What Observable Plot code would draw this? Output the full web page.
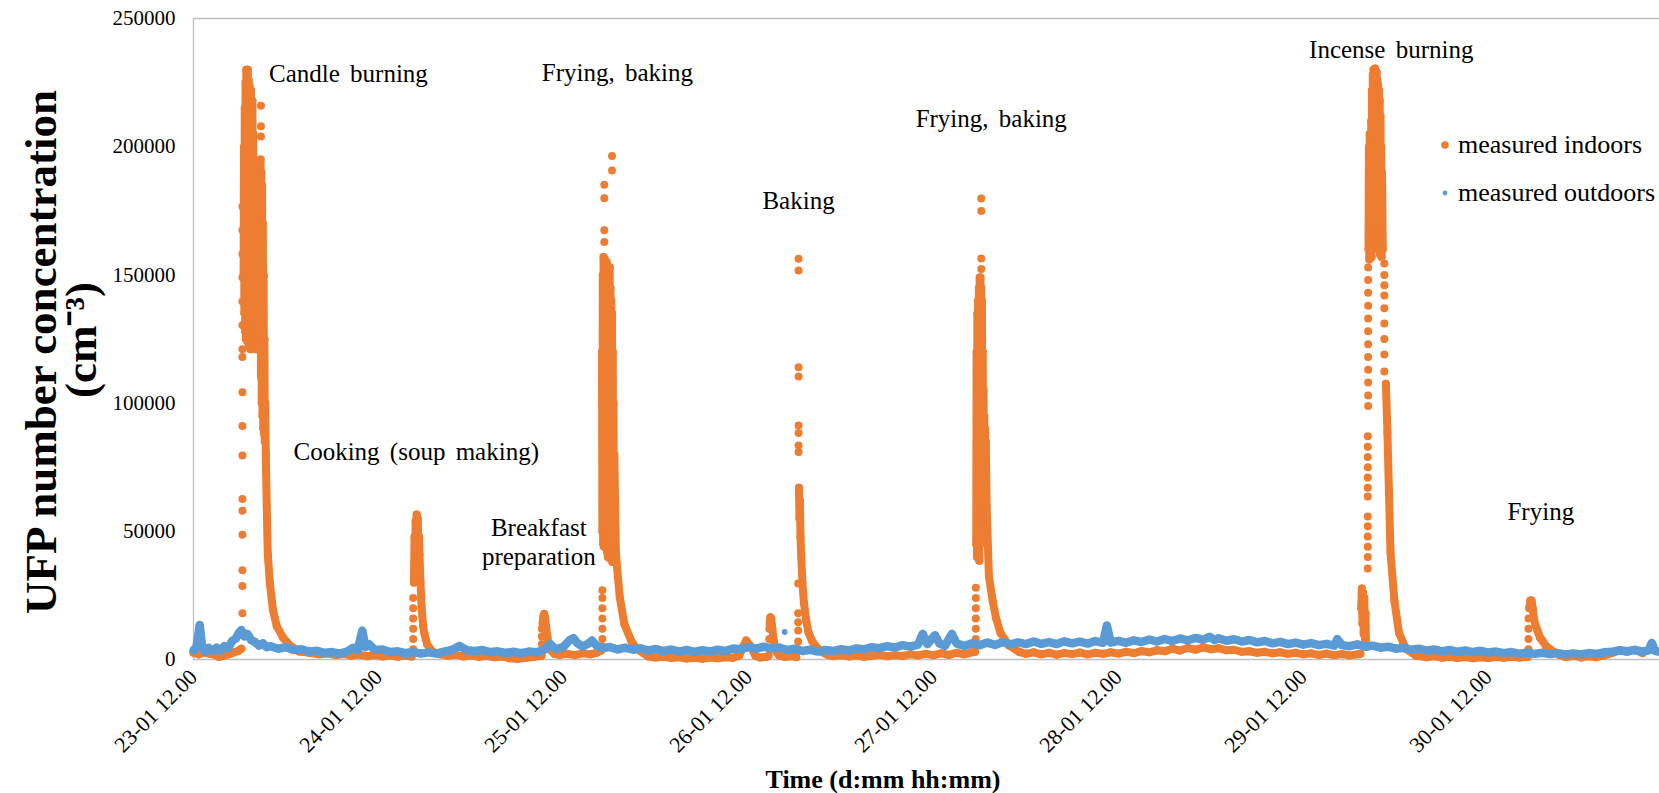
<!DOCTYPE html>
<html>
<head>
<meta charset="utf-8">
<script src="https://cdn.jsdelivr.net/npm/d3@7"></script>
<script src="https://cdn.jsdelivr.net/npm/@observablehq/plot@0.6"></script>
<style>
  html, body { margin: 0; padding: 0; background: #fff; }
  #chart { width: 1659px; height: 793px; }
  #chart svg g[aria-label="text"] text { word-spacing: 4px; }
</style>
</head>
<body>
<div id="chart"></div>
<script>
// ---------------- DATA (hours after 23-01 12.00, UFP number concentration cm^-3) ----------------
const START_UTC = Date.UTC(2015, 0, 23, 12, 0);
const X_END_HOURS = 190.2;
const xTickHours = [0, 24, 48, 72, 96, 120, 144, 168];
const yTicks = [0, 50000, 100000, 150000, 200000, 250000];
const seriesNames = ["measured indoors", "measured outdoors"];
const yTitleLines = ["UFP number concentration", "(cm\u207B\u00B3)"];
const xTitle = "Time (d:mm hh:mm)";

const eventLabels = ["Candle burning", "Cooking (soup making)", "Breakfast\npreparation", "Frying, baking", "Baking", "Frying, baking", "Incense burning", "Frying"];
const eventHours  = [20.1, 28.9, 44.8, 55.0, 78.5, 103.5, 155.4, 174.8];
const eventUFP    = [229000, 81500, 46100, 229300, 179400, 211200, 238400, 58100];

// indoor: continuous bands of dense measurements [hour, value]
const indoorLead = [[0,2600],[0.7,2000],[1.4,2800],[2.1,2200],[2.8,1800],[3.3,1000],[3.8,1400],[4.3,1800],[4.8,2200],[5.3,2800],[5.8,3300],[6.2,4200]];
const candleBand = [[6.5,150000],[6.55,200000],[6.6,135000],[6.65,215000],[6.7,128000],[6.75,225000],[6.8,125000],[6.85,230000],[6.9,130000],[6.95,228000],[7.0,124000],[7.05,230000],[7.1,127000],[7.15,226000],[7.2,122000],[7.25,224000],[7.3,128000],[7.35,220000],[7.4,121000],[7.45,222000],[7.5,125000],[7.55,215000],[7.6,122000],[7.65,218000],[7.7,130000],[7.75,205000],[7.8,123000],[7.85,195000],[7.9,122000],[7.95,180000],[8.0,126000],[8.05,172000],[8.1,121000],[8.15,165000],[8.2,124000],[8.25,160000],[8.3,122000],[8.35,150000],[8.4,125000],[8.5,135000],
  [8.7,195000],[8.75,110000],[8.8,190000],[8.85,100000],[8.9,185000],[8.95,95000],[9.0,170000],[9.05,90000],[9.1,150000],[9.15,88000],[9.2,125000],[9.25,85000],[9.3,100000],[9.38,80000],
  [9.5,60000],[9.64,41000],[9.9,30000],[10.3,19500],[10.8,13000],[11.6,8600],[12.5,5500],[13.7,3100],[15,2600],[16.3,2000],[17.5,2300],[18.5,1700],[19.5,2100],[20.5,1500],[21.5,1900],[22.5,1300],[23.5,1700],[24.5,1200],[25.5,1600],[26.5,1100],[27.5,1500],[28.3,1200]];
const cookingBand = [[28.6,30000],[28.68,48000],[28.75,35000],[28.82,54000],[28.88,40000],[28.95,56600],[29.02,45000],[29.1,55000],[29.18,44000],[29.25,48000],[29.32,41000],[29.45,30000],[29.6,20000],[29.8,13000],[29.96,10000],[30.3,6000],[31.0,3000],[32,2000],[33,1500],[34,1800],[35,1200],[36,1600],[37,1100],[38,1400],[39,900],[40,1200],[41,500],[42,300],[43,600],[44,1000],[45,1400],[45.15,1500]];
const breakfastBand = [[45.3,14000],[45.4,17000],[45.5,17800],[45.6,16500],[45.75,13000],[45.9,9000],[46.1,6000],[46.4,3500],[46.8,2200],[47.5,1800],[48.5,2200],[49.5,1700],[50.5,2400],[51.5,2000],[52.3,2600],[52.9,3500]];
const fryingBand1 = [[53.0,120000],[53.05,50000],[53.1,150000],[53.15,45000],[53.2,157000],[53.25,44000],[53.3,155000],[53.35,48000],[53.4,156000],[53.45,46000],[53.5,150000],[53.55,50000],[53.6,155000],[53.65,42000],[53.7,150000],[53.75,40000],[53.8,152000],[53.85,45000],[53.9,148000],[53.95,41000],[54.0,153000],[54.05,40000],[54.1,145000],[54.15,39000],[54.2,140000],[54.25,40000],[54.3,135000],[54.35,38000],[54.4,120000],[54.45,39000],[54.5,100000],[54.55,38000],[54.6,80000],[54.7,60000],[54.8,42000],
  [54.9,37600],[55.3,24400],[55.9,13800],[56.8,7200],[57.5,4200],[58.3,2600],[59,1200],[60,800],[61,1100],[62,600],[63,900],[64,400],[65,700],[66,300],[67,800],[68,500],[69,900],[70,700],[70.8,1500],[71.3,5000],[71.7,7400],[72.2,5500],[72.9,1500],[73.5,800],[74.3,1000],[74.6,1400]];
const smallBakeBand = [[74.75,14000],[74.85,16500],[74.95,16000],[75.1,12000],[75.3,7000],[75.6,3000],[76,1500],[76.7,1000],[77.5,1300],[78.2,900]];
const bakingBand = [[78.55,67000],[78.62,55000],[78.68,62000],[78.75,48000],[78.85,40000],[79.0,30000],[79.2,22000],[79.5,15000],[79.8,10500],[80.3,7000],[80.9,4500],[81.5,3000],[82.3,1800],[83,1300],[84,1700],[85,1200],[86,1600],[87,1100],[88,1500],[89,1800],[90,1300],[91,1700],[92,1400],[93,2000],[94,1600],[95,2200],[96,1700],[97,2400],[98,1800],[99,2600],[100,2000],[101,2800],[101.4,3000]];
const fryingBand2 = [[101.55,45000],[101.6,120000],[101.65,40000],[101.7,135000],[101.75,42000],[101.8,140000],[101.85,40000],[101.9,145000],[101.95,38500],[102.0,149000],[102.05,45000],[102.1,149000],[102.15,55000],[102.2,145000],[102.25,60000],[102.3,140000],[102.35,58000],[102.4,120000],[102.45,55000],[102.5,105000],[102.55,52000],[102.6,95000],[102.65,50000],[102.7,90000],[102.75,52000],[102.8,85000],[102.9,60000],
  [103.0,50700],[103.2,32400],[103.7,22600],[104.1,16400],[104.7,10300],[105.8,5500],[107.1,3000],[108,2200],[109,2800],[110,2000],[111,2600],[112,1900],[113,2500],[114,2100],[115,2700],[116,2000],[117,2600],[118,2200],[119,2800],[120,2300],[121,3000],[122,2500],[123,3300],[124,2800],[125,3600],[126,3200],[127,4200],[128,3500],[129,4500],[130,3800],[131,4700],[132,4000],[133,4400],[134,3600],[135,3800],[136,3000],[137,3200],[138,2600],[139,3000],[140,2400],[141,2800],[142,2200],[143,2600],[144,2000],[145,2400],[146,1800],[147,2300],[148,1700],[149,2100],[150,1600],[151,2000],[151.4,2200]];
const incenseLump = [[151.5,20000],[151.58,27700],[151.66,14000],[151.74,26000],[151.82,10000],[151.9,24000],[151.98,8000],[152.06,18000],[152.12,5000]];
const incenseBand = [[152.45,160000],[152.5,200000],[152.55,156000],[152.6,205000],[152.65,158000],[152.7,200000],[152.75,160000],[152.8,210000],[152.85,157000],[152.9,222000],[152.95,162000],[153.0,228000],[153.05,165000],[153.1,230000],[153.15,162000],[153.2,229000],[153.25,170000],[153.3,230500],[153.35,165000],[153.4,227000],[153.45,168000],[153.5,229000],[153.55,163000],[153.6,226000],[153.65,166000],[153.7,224000],[153.75,160000],[153.8,222000],[153.85,165000],[153.9,218000],[153.95,158000],[154.0,212000],[154.05,160000],[154.1,200000],[154.15,157000],[154.2,190000],[154.3,160000]];
const incenseDecay = [[154.7,107500],[154.9,88700],[155.1,65200],[155.3,41700],[155.8,23000],[156.4,10400],[157.3,4100],[158.6,1500],[160,900],[161,1300],[162,700],[163,1100],[164,600],[165,1000],[166,500],[167,900],[168,600],[169,1000],[170,700],[171,1100],[172,800],[173.1,1000]];
const fryingBand3 = [[173.3,20000],[173.45,23000],[173.6,23000],[173.75,20000],[173.9,16000],[174.1,13500],[174.4,11000],[174.7,8500],[175.0,7400],[175.5,5200],[175.9,4200],[176.6,2800],[177.2,1800],[178,1000],[179,1400],[180,800],[181,1300],[182,900],[183,1600],[184,2500],[185,3500],[186,3000],[187,3800],[188,2500]];

// indoor: sparse readings during the fast rises (shown as dotted columns)
const candleRise = [[6.35,10000],[6.35,18000],[6.35,28700],[6.35,34800],[6.35,48700],[6.35,58000],[6.35,62600],[6.35,79600],[6.35,91100],[6.35,104200],[6.35,118000],[6.35,121000],[6.35,130400],[6.35,139600],[6.35,149000],[6.35,158200],[6.35,167400],[6.35,176700]];
const candleTop = [[8.75,216000],[8.75,208000],[8.75,204000]];
const cookingRise = [[28.5,4000],[28.5,8000],[28.5,12000],[28.5,16000],[28.5,20000],[28.5,24000]];
const breakfastRise = [[45.2,3000],[45.2,6000],[45.2,9000],[45.2,12000]];
const fryingRise1 = [[53.05,5000],[53.05,8000],[53.05,12000],[53.05,16000],[53.05,20000],[53.05,24000],[53.05,27000]];
const fryingTop1 = [[53.3,185200],[53.3,179900],[53.3,167400],[53.3,162800],[54.3,196400],[54.3,190700]];
const smallBakeRise = [[74.7,4000],[74.7,8000],[74.7,12000]];
const bakingRise = [[78.5,156300],[78.5,151700],[78.5,114000],[78.5,110400],[78.5,91300],[78.5,88300],[78.5,83500],[78.5,80900],[78.45,29600],[78.45,18000],[78.45,14500],[78.45,11300],[78.45,7000],[78.45,4000]];
const fryingRise2 = [[101.5,8000],[101.5,12000],[101.5,16000],[101.5,20000],[101.5,24000],[101.5,28000]];
const fryingTop2 = [[102.2,179800],[102.2,174900],[102.2,156400],[102.2,152300]];
const incenseRise = [[152.4,152900],[152.4,148000],[152.4,143000],[152.4,138000],[152.4,133000],[152.4,128000],[152.4,123000],[152.4,118000],[152.4,113000],[152.4,108000],[152.4,103000],[152.4,98900],[152.35,87100],[152.35,83000],[152.35,79000],[152.35,75000],[152.35,71000],[152.35,67000],[152.35,63600],[152.35,55800],[152.35,52000],[152.35,48000],[152.35,44000],[152.35,40000],[152.35,35500]];
const incenseTail = [[154.5,154400],[154.5,150000],[154.5,146000],[154.5,142000],[154.5,137000],[154.5,131000],[154.5,125000],[154.5,119000],[154.5,112300]];
const fryingRise3 = [[173.2,4000],[173.2,8000],[173.2,12000],[173.2,16000]];

// outdoor
const outdoorBand = [[0,3500],[0.4,5000],[0.8,13500],[1.1,5500],[1.5,3000],[2,4500],[2.5,3300],[3,4600],[3.5,3500],[4,5200],[4.5,4400],[5,7200],[5.5,8200],[5.9,10500],[6.2,11500],[6.6,9000],[7,10000],[7.5,7500],[8,6800],[8.5,5400],[9,6300],[9.5,4800],[10,5200],[11,4200],[12,4800],[13,3700],[14,4000],[15,3100],[16,3400],[17,2600],[18,2900],[19,2300],[20,3200],[20.7,4600],[21.3,3600],[21.9,11300],[22.3,4800],[22.8,6000],[23.5,3700],[24.5,3900],[25.5,2900],[26.5,3200],[27.5,2500],[28.5,3000],[29.5,2300],[30.5,2800],[31.5,2300],[32.5,3100],[33.5,3700],[34.5,5300],[35.5,3600],[36.5,3300],[37.5,3700],[38.5,2900],[39.5,3200],[40.5,2600],[41.5,3000],[42.5,2500],[43.5,3100],[44.5,2800],[45.5,3800],[46.3,6000],[47,4000],[48,4900],[48.8,7600],[49.3,8300],[49.8,6400],[50.5,5000],[51.2,6200],[51.7,7400],[52.3,5400],[53,4400],[54,4900],[55,3900],[56,4600],[57,3800],[58,4400],[59,3500],[60,4100],[61,3300],[62,3900],[63,3100],[64,3700],[65,3000],[66,3600],[67,3100],[68,3800],[69,3300],[70,4300],[71,4000],[72,4800],[73,4200],[74,5000],[75,4300],[76,4700],[77,3700],[78,4200],[79,3300],[80,3800],[81,3100],[82,3700],[83,3300],[84,4000],[85,3500],[86,4300],[87,4000],[88,4800],[89,4400],[90,5200],[91,4700],[92,5600],[93,5000],[94,5800],[94.6,10000],[95.2,6000],[96.2,9500],[96.8,6200],[97.5,5400],[98.4,10000],[99,6300],[100,5300],[101,6300],[102,5600],[103,6600],[104,5700],[105,6800],[106,5900],[107,6700],[108,6000],[109,7000],[110,6100],[111,6800],[112,6000],[113,7100],[114,6300],[115,7000],[116,6200],[117,7200],[118,6500],[118.5,13300],[119,6600],[120,7300],[121,6500],[122,7500],[123,6800],[124,7800],[125,7000],[126,8000],[127,7200],[128,8200],[129,7500],[130,8400],[131,7700],[131.8,8900],[132.5,7600],[133,8300],[134,7300],[135,7900],[136,7000],[137,7600],[138,6700],[139,7200],[140,6300],[141,6900],[142,6000],[143,6600],[144,5800],[145,6400],[146,5600],[147,6100],[148,5400],[148.4,8000],[149,5600],[150,5200],[151,5900],[152,5000],[153,5400],[154,4600],[155,5000],[156,4200],[157,4600],[158,3800],[159,4200],[160,3500],[161,3900],[162,3200],[163,3700],[164,3000],[165,3500],[166,2900],[167,3400],[168,2700],[169,3100],[170,2500],[171,2900],[172,2300],[173,2700],[174,2200],[175,2600],[176,2100],[177,2500],[178,2000],[179,2400],[180,2000],[181,2500],[182,2200],[183,2800],[184,3000],[185,3600],[186,3200],[187,3700],[188,3100],[188.8,3600],[189.2,6500],[189.6,3400],[190.2,3000]];
const outdoorStray = [[76.7,10700]];

// ---------------- BUILD ----------------
const ORANGE = "#ED7D31", BLUE = "#5B9BD5", FRAME = "#BFBFBF";
const FONT = "'Liberation Serif', 'Times New Roman', serif";
const toDate = h => new Date(START_UTC + h * 3600000);
const toRow = ([h, v]) => ({t: toDate(h), v});

const indoorSegments = [indoorLead, candleBand, cookingBand, breakfastBand, fryingBand1, smallBakeBand, bakingBand, fryingBand2, incenseLump, incenseBand, incenseDecay, fryingBand3];
const indoorLine = [];
indoorSegments.forEach((seg, i) => {
  if (i) indoorLine.push({t: null, v: null});
  seg.forEach(p => indoorLine.push(toRow(p)));
});
const indoorScatter = [candleRise, candleTop, cookingRise, breakfastRise, fryingRise1, fryingTop1, smallBakeRise, bakingRise, fryingRise2, fryingTop2, incenseRise, incenseTail, fryingRise3].flat().map(toRow);
const outdoorLine = outdoorBand.map(toRow);
const outdoorDots = outdoorStray.map(toRow);
const events = eventLabels.map((label, i) => ({label, t: toDate(eventHours[i]), v: eventUFP[i]}));

const chart = Plot.plot({
  width: 1659,
  height: 793,
  marginLeft: 193,
  marginRight: 0,
  marginTop: 18,
  marginBottom: 134,
  style: {fontFamily: FONT, fontSize: "20px", color: "#000", background: "#fff", overflow: "visible"},
  x: {type: "utc", domain: [toDate(0), toDate(X_END_HOURS)]},
  y: {domain: [0, 250000]},
  marks: [
    Plot.ruleY([0, 250000], {stroke: FRAME, strokeWidth: 1.3}),
    Plot.ruleX([toDate(0)], {stroke: FRAME, strokeWidth: 1.3}),
    Plot.axisY({ticks: yTicks, tickFormat: d3.format("d"), tickSize: 0, tickPadding: 18, label: null, fontSize: 21}),
    Plot.axisX({ticks: xTickHours.map(toDate), tickFormat: d3.utcFormat("%d-%m %H.%M"), tickRotate: -45, tickSize: 0, tickPadding: 14, label: null, fontSize: 22}),
    Plot.line(indoorLine, {x: "t", y: "v", stroke: ORANGE, strokeWidth: 8, strokeLinejoin: "round", strokeLinecap: "round"}),
    Plot.dot(indoorLine, {x: "t", y: "v", r: 4, fill: ORANGE}),
    Plot.dot(indoorScatter, {x: "t", y: "v", r: 4, fill: ORANGE}),
    Plot.line(outdoorLine, {x: "t", y: "v", stroke: BLUE, strokeWidth: 8.5, strokeLinejoin: "round", strokeLinecap: "round"}),
    Plot.dot(outdoorLine, {x: "t", y: "v", r: 3, fill: BLUE}),
    Plot.dot(outdoorDots, {x: "t", y: "v", r: 3, fill: BLUE}),
    Plot.text(events, {x: "t", y: "v", text: "label", fontSize: 25, lineHeight: 1.18, textAnchor: "middle", lineAnchor: "middle", fill: "#000"})
  ]
});

const svg = d3.select(chart);
// y axis title (two lines, rotated)
const yt = svg.append("g").attr("font-family", FONT).attr("font-weight", "bold").attr("font-size", 45).attr("fill", "#000").attr("text-anchor", "middle");
yt.append("text").attr("transform", "translate(40,352) rotate(-90)").attr("dy", "0.35em").text(yTitleLines[0]);
yt.append("text").attr("transform", "translate(80,340) rotate(-90)").attr("dy", "0.35em").text(yTitleLines[1]);
// x axis title
svg.append("text").attr("x", 883).attr("y", 779).attr("dy", "0.35em").attr("text-anchor", "middle")
  .attr("font-family", FONT).attr("font-weight", "bold").attr("font-size", 26).attr("fill", "#000").text(xTitle);
// legend
const lg = svg.append("g").attr("font-family", FONT).attr("font-size", 26).attr("fill", "#000").attr("text-anchor", "start");
const legendColors = [ORANGE, BLUE], legendR = [3.8, 2.4];
seriesNames.forEach((name, i) => {
  const y = 145 + i * 48;
  lg.append("circle").attr("cx", 1445).attr("cy", y).attr("r", legendR[i]).attr("fill", legendColors[i]);
  lg.append("text").attr("x", 1458).attr("y", y).attr("dy", "0.32em").attr("text-anchor", "start").text(name);
});

document.getElementById("chart").appendChild(chart);
</script>
</body>
</html>
